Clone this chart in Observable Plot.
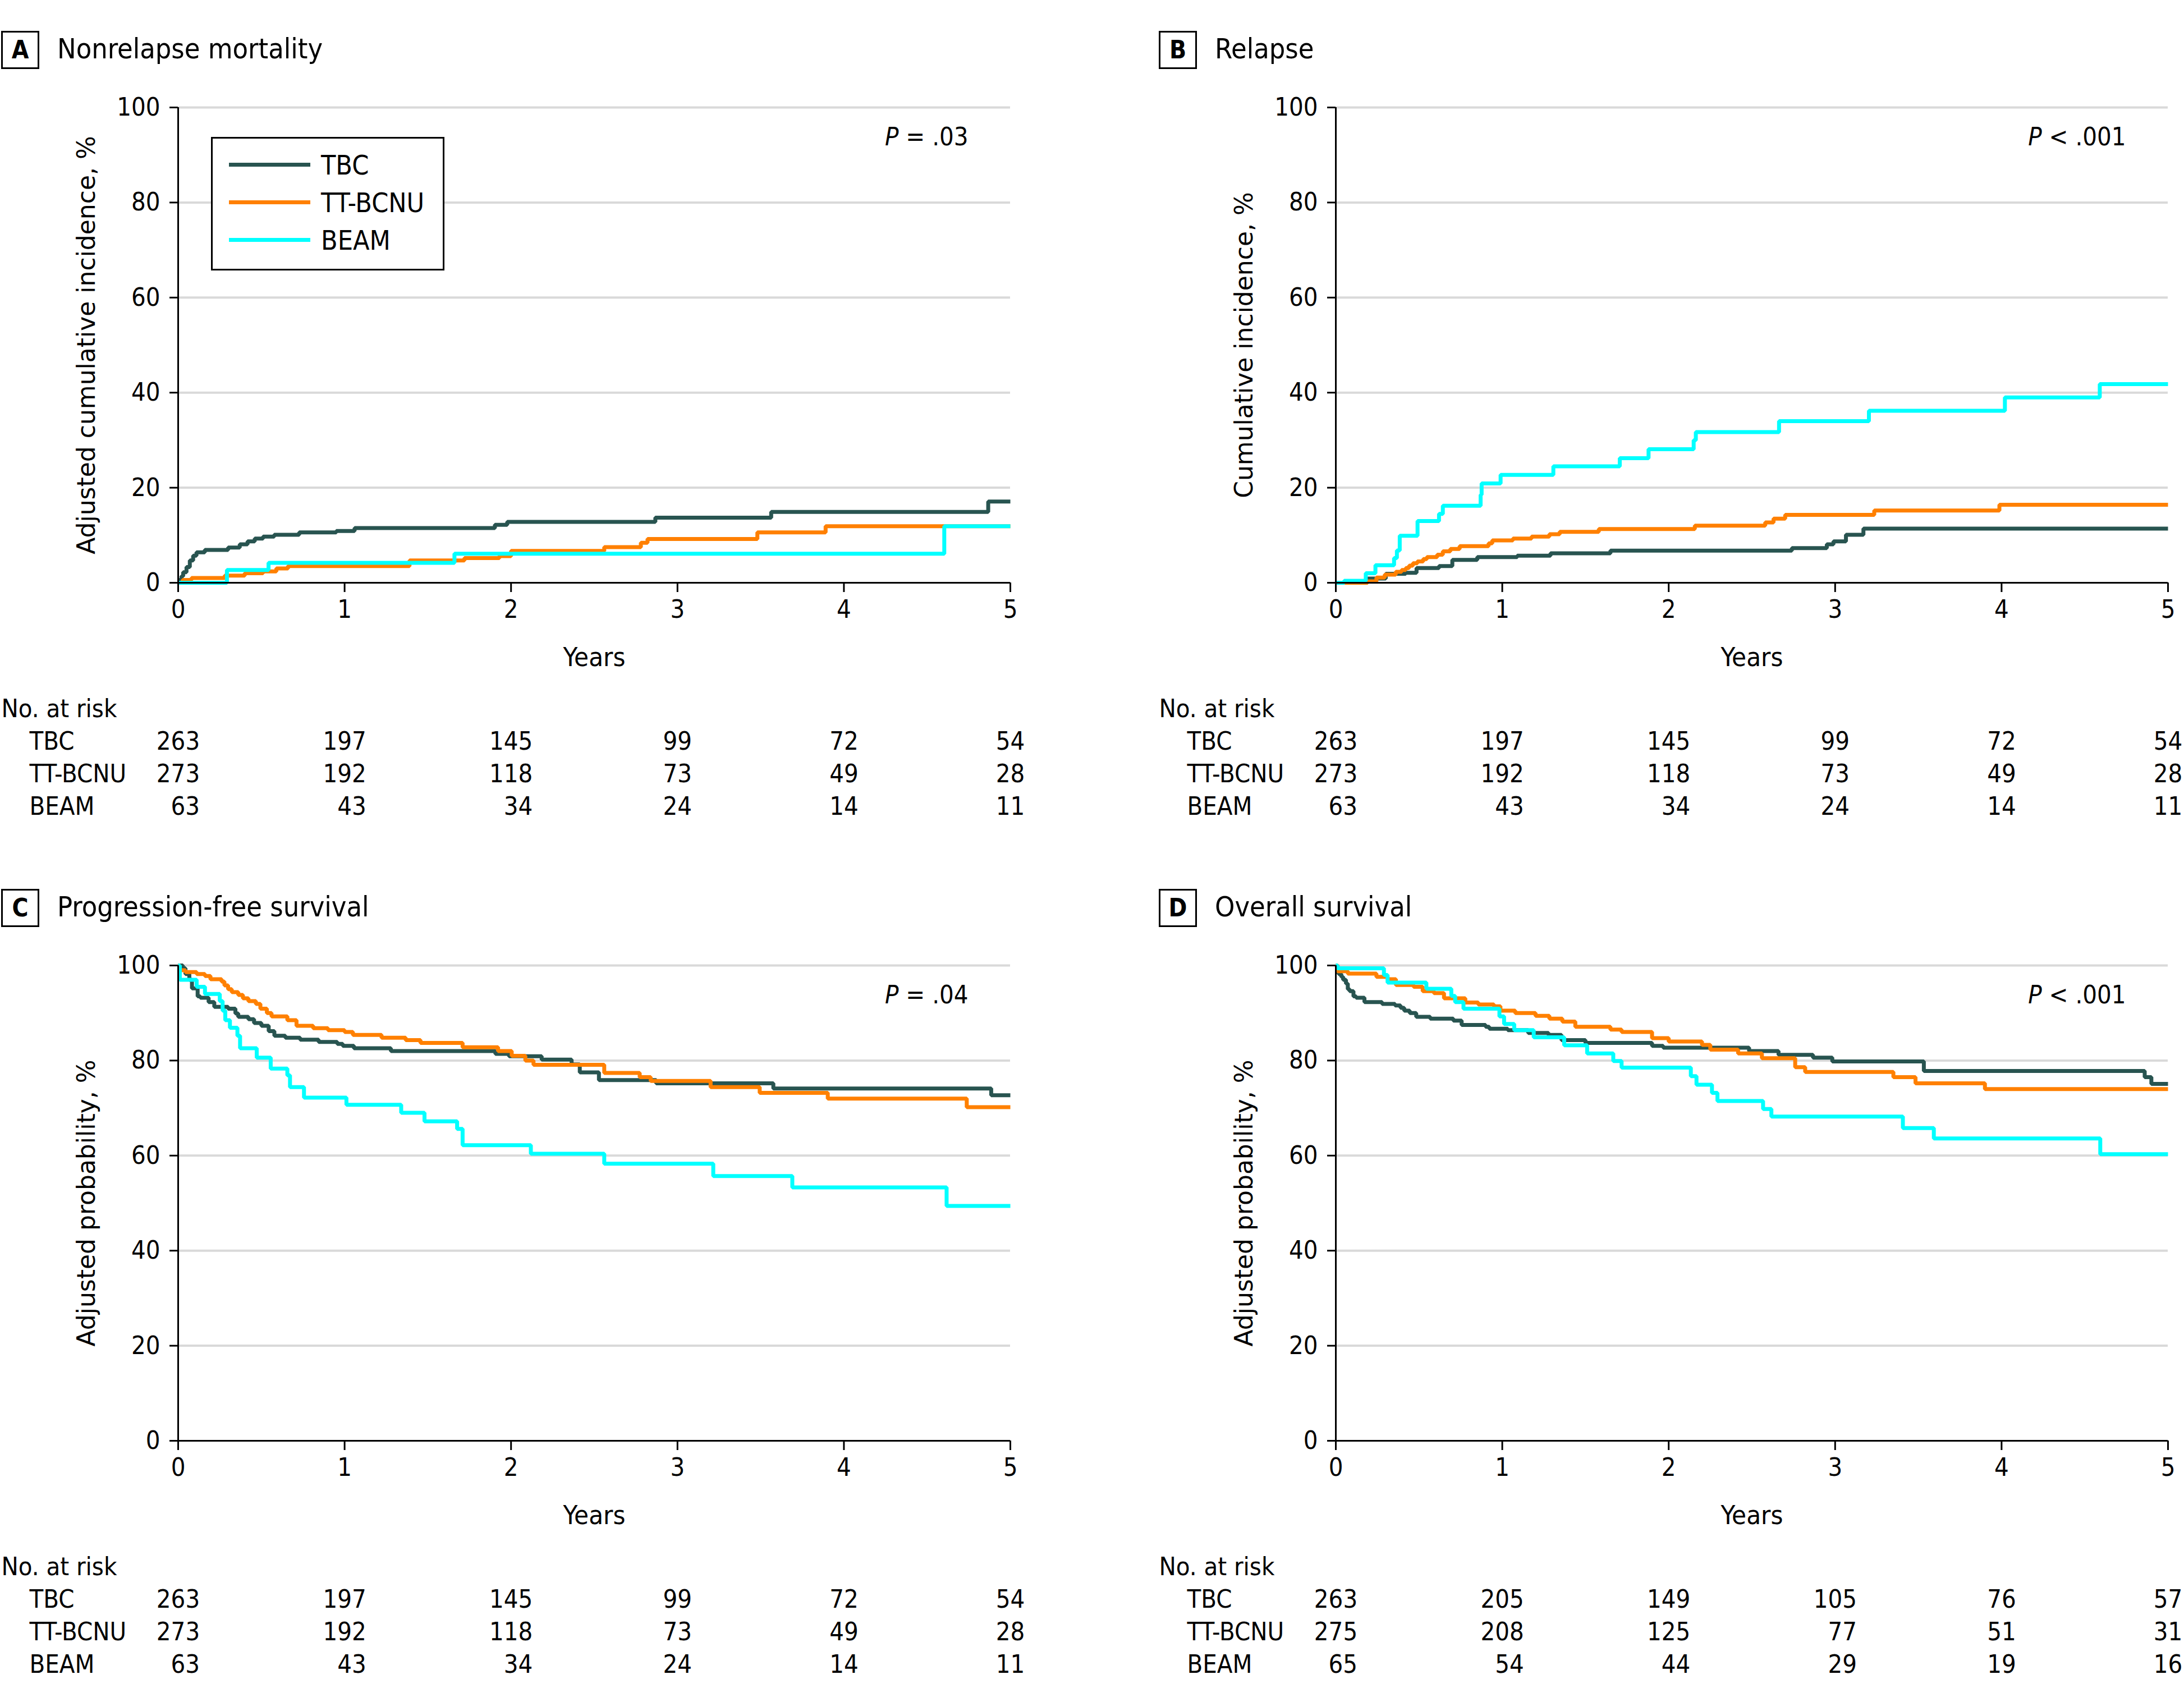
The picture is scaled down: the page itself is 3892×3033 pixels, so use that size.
<!DOCTYPE html>
<html>
<head>
<meta charset="utf-8">
<script src="https://cdn.jsdelivr.net/npm/d3@7"></script>
<script src="https://cdn.jsdelivr.net/npm/@observablehq/plot@0.6"></script>
<style>
html, body { margin: 0; padding: 0; background: #fff; }
body { width: 3892px; height: 3033px; overflow: hidden; position: relative;
  font-family: 'DejaVu Sans Condensed', sans-serif; color: #000; }
.panel { position: absolute; width: 1892px; height: 1529px; }
.panel svg { position: absolute; left: 0; overflow: visible; }
.tag { position: absolute; left: 2px; top: 55px; width: 62px; height: 62px; border: 3px solid #000;
  font-weight: bold; font-size: 44px; line-height: 62px; text-align: center; }
.title { position: absolute; left: 102px; top: 62px; font-size: 50px; line-height: 50px; white-space: nowrap; }
.legend { position: absolute; left: 376px; top: 244px; width: 410px; height: 232px; border: 3px solid #000; background: #fff; }
.legend .row { position: absolute; left: 0; width: 410px; height: 60px; }
.legend .sw { position: absolute; left: 29px; top: 26px; width: 145px; height: 7px; }
.legend .lab { position: absolute; left: 193px; top: 6px; font-size: 48px; line-height: 48px; white-space: nowrap; }
</style>
</head>
<body>
<script>
// ---------- categories / labels ----------
const groups = ["TBC", "TT-BCNU", "BEAM"];
const colors = ["#285450", "#ff8000", "#00ffff"];
const years = [0, 1, 2, 3, 4, 5];
const yTicks = [0, 20, 40, 60, 80, 100];
const panelLetters = ["A", "B", "C", "D"];
const panelTitles = ["Nonrelapse mortality", "Relapse", "Progression-free survival", "Overall survival"];
const yLabels = ["Adjusted cumulative incidence, %", "Cumulative incidence, %", "Adjusted probability, %", "Adjusted probability, %"];
const pValues = ["P = .03", "P < .001", "P = .04", "P < .001"];

// ---------- A: nonrelapse mortality [years, %] ----------
const nrmTBC = [[0,0],[0.01,0.7],[0.02,1.4],[0.03,2.2],[0.05,3.3],[0.07,4.7],[0.09,5.7],[0.11,6.4],[0.16,6.9],[0.30,7.4],[0.37,8.1],[0.417,8.7],[0.46,9.3],[0.51,9.7],[0.577,10.1],[0.727,10.6],[0.95,10.9],[1.06,11.5],[1.903,12.2],[1.977,12.8],[2.867,13.7],[3.563,14.9],[4.867,17.1],[5,17.1]];
const nrmTT = [[0,0],[0.027,0.6],[0.08,1.0],[0.28,1.5],[0.4,2.0],[0.51,2.4],[0.59,3.0],[0.66,3.5],[1.39,4.7],[1.72,5.2],[1.93,5.6],[2.0,6.7],[2.56,7.5],[2.78,8.4],[2.82,9.2],[3.48,10.6],[3.89,11.9],[5,11.9]];
const nrmBEAM = [[0,0],[0.293,2.7],[0.543,4.2],[1.66,6.1],[4.603,11.9],[5,11.9]];

// ---------- B: relapse ----------
const relTBC = [[0,0],[0.19,0.9],[0.30,1.9],[0.42,2.1],[0.485,3.1],[0.62,3.5],[0.70,4.8],[0.85,5.4],[1.09,5.7],[1.29,6.2],[1.65,6.75],[2.74,7.3],[2.95,8.1],[2.99,8.7],[3.065,10.1],[3.17,11.4],[5,11.4]];
const relTT = [[0,0],[0.19,0.3],[0.244,1.1],[0.294,1.7],[0.36,2.3],[0.395,2.7],[0.42,3.1],[0.44,3.6],[0.463,4.1],[0.49,4.5],[0.525,5.0],[0.547,5.4],[0.609,5.9],[0.643,6.6],[0.688,7.1],[0.744,7.7],[0.918,8.3],[0.94,8.9],[1.064,9.3],[1.176,9.7],[1.283,10.2],[1.345,10.7],[1.58,11.3],[2.157,12.0],[2.58,12.7],[2.63,13.5],[2.70,14.3],[3.235,15.2],[3.987,16.4],[5,16.4]];
const relBEAM = [[0,0],[0.05,0.4],[0.18,2.0],[0.238,3.7],[0.35,5.2],[0.367,6.8],[0.384,9.9],[0.491,13.0],[0.62,14.5],[0.643,16.2],[0.87,18.5],[0.876,20.9],[0.99,22.7],[1.307,24.5],[1.706,26.2],[1.879,28.1],[2.15,30.0],[2.163,31.7],[2.663,34.0],[3.203,36.2],[4.02,39.0],[4.59,41.8],[5,41.8]];

// ---------- C: progression-free survival ----------
const pfsTBC = [[0,100],[0.028,99.4],[0.044,98.2],[0.067,97.0],[0.083,95.2],[0.117,93.5],[0.133,93.2],[0.183,92.3],[0.217,91.3],[0.30,90.9],[0.344,89.9],[0.361,89.2],[0.422,88.7],[0.456,87.9],[0.50,87.3],[0.544,86.2],[0.578,85.2],[0.644,84.8],[0.733,84.4],[0.844,83.9],[0.956,83.5],[0.989,83.1],[1.056,82.6],[1.278,82.0],[1.906,81.4],[1.988,80.9],[2.184,80.2],[2.364,79.2],[2.413,77.5],[2.528,75.9],[2.872,75.2],[3.576,74.1],[4.885,72.7],[5,72.7]];
const pfsTT = [[0,100],[0.01,99.0],[0.044,98.6],[0.111,98.2],[0.161,97.8],[0.194,97.1],[0.261,96.6],[0.278,95.8],[0.30,95.0],[0.322,94.4],[0.361,93.8],[0.389,93.1],[0.422,92.5],[0.467,91.9],[0.494,90.9],[0.533,90.0],[0.561,89.3],[0.656,88.5],[0.711,87.3],[0.811,86.8],[0.90,86.4],[1.0,86.0],[1.05,85.4],[1.222,84.8],[1.367,84.3],[1.456,83.7],[1.709,82.8],[1.922,82.0],[2.004,81.0],[2.086,80.0],[2.135,79.1],[2.56,77.4],[2.773,76.5],[2.839,75.7],[3.199,74.4],[3.494,73.2],[3.903,72.0],[4.738,70.2],[5,70.2]];
const pfsBEAM = [[0,100],[0.01,97.0],[0.111,95.5],[0.161,94.0],[0.25,92.5],[0.267,90.5],[0.283,88.5],[0.311,86.9],[0.356,85.2],[0.372,82.6],[0.472,80.6],[0.556,78.3],[0.656,76.9],[0.672,74.4],[0.756,72.2],[1.011,70.7],[1.34,69.0],[1.48,67.2],[1.676,65.6],[1.709,62.2],[2.119,60.4],[2.56,58.3],[3.215,55.7],[3.69,53.3],[4.617,49.4],[5,49.4]];

// ---------- D: overall survival ----------
const osTBC = [[0,100],[0.011,99.2],[0.017,98.2],[0.033,97.6],[0.044,97.0],[0.061,96.2],[0.072,95.0],[0.083,94.6],[0.106,93.5],[0.122,93.2],[0.172,92.3],[0.278,91.9],[0.356,91.6],[0.389,91.1],[0.411,90.5],[0.444,90.0],[0.483,89.2],[0.567,88.8],[0.706,88.4],[0.756,87.5],[0.90,87.1],[0.922,86.7],[1.033,86.4],[1.156,85.8],[1.278,85.4],[1.356,84.3],[1.5,83.7],[1.9,83.1],[1.967,82.7],[2.483,82.0],[2.66,81.2],[2.867,80.6],[2.983,79.8],[3.533,77.8],[4.86,76.5],[4.9,75.1],[5,75.1]];
const osTT = [[0,100],[0.01,98.8],[0.072,98.3],[0.244,97.6],[0.311,97.1],[0.361,95.9],[0.467,95.5],[0.522,94.6],[0.589,94.2],[0.65,93.1],[0.778,92.2],[0.856,91.8],[0.95,91.4],[0.989,90.5],[1.078,90.0],[1.2,89.4],[1.283,88.8],[1.361,88.2],[1.439,87.1],[1.65,86.5],[1.717,86.0],[1.9,84.7],[2.0,84.0],[2.2,83.3],[2.25,82.3],[2.417,81.5],[2.56,80.5],[2.76,78.6],[2.82,77.6],[3.35,76.5],[3.483,75.2],[3.9,74.0],[5,74.0]];
const osBEAM = [[0,100],[0.01,99.4],[0.289,98.0],[0.311,96.4],[0.544,95.1],[0.694,93.6],[0.717,92.3],[0.767,90.9],[0.983,89.3],[1.011,87.7],[1.072,86.4],[1.189,84.9],[1.372,83.2],[1.51,81.5],[1.667,79.9],[1.717,78.5],[2.133,76.7],[2.167,74.9],[2.26,73.2],[2.293,71.5],[2.567,69.8],[2.617,68.2],[3.407,65.8],[3.593,63.6],[4.593,60.3],[5,60.3]];

// ---------- numbers at risk (at years 0..5) ----------
const riskTBC = [263, 197, 145, 99, 72, 54];
const riskTT = [273, 192, 118, 73, 49, 28];
const riskBEAM = [63, 43, 34, 24, 14, 11];
const riskOsTBC = [263, 205, 149, 105, 76, 57];
const riskOsTT = [275, 208, 125, 77, 51, 31];
const riskOsBEAM = [65, 54, 44, 29, 19, 16];

const panelSeries = [
  [nrmTBC, nrmTT, nrmBEAM],
  [relTBC, relTT, relBEAM],
  [pfsTBC, pfsTT, pfsBEAM],
  [osTBC, osTT, osBEAM]
];
const panelRisk = [
  [riskTBC, riskTT, riskBEAM],
  [riskTBC, riskTT, riskBEAM],
  [riskTBC, riskTT, riskBEAM],
  [riskOsTBC, riskOsTT, riskOsBEAM]
];
const panelOffsets = [[0, 0], [2063, 0], [0, 1529], [2063, 1529]];

const FONT = "'DejaVu Sans Condensed', sans-serif";
const FS = 45;
const svgNS = "http://www.w3.org/2000/svg";

function makePanel(i) {
  const div = document.createElement("div");
  div.className = "panel";
  div.style.left = panelOffsets[i][0] + "px";
  div.style.top = panelOffsets[i][1] + "px";
  document.body.appendChild(div);

  const tag = document.createElement("div");
  tag.className = "tag"; tag.textContent = panelLetters[i];
  div.appendChild(tag);
  const title = document.createElement("div");
  title.className = "title"; title.textContent = panelTitles[i];
  div.appendChild(title);

  const rows = [];
  panelSeries[i].forEach((s, k) => s.forEach(([t, v]) => rows.push({t, v, g: groups[k]})));

  const chart = Plot.plot({
    width: 1892, height: 1088,
    marginLeft: 317, marginRight: 92, marginTop: 61, marginBottom: 180,
    x: {domain: [0, 5], label: null},
    y: {domain: [0, 100], label: null},
    color: {domain: groups, range: colors},
    style: {fontFamily: FONT, fontSize: FS + "px", color: "#000", background: "transparent", maxWidth: "none", overflow: "visible"},
    marks: [
      Plot.gridY(yTicks.filter(d => d > 0), {stroke: "#d9d9d9", strokeOpacity: 1, strokeWidth: 4}),
      Plot.line(rows, {x: "t", y: "v", z: "g", stroke: "g", curve: "step-after", strokeWidth: 7, strokeLinejoin: "miter", strokeLinecap: "butt"}),
      Plot.ruleY([0], {stroke: "#000", strokeWidth: 3}),
      Plot.ruleX([0], {stroke: "#000", strokeWidth: 3}),
      Plot.axisX(years, {tickSize: 17, tickPadding: 14, strokeWidth: 3, label: null, tickFormat: d => String(d)}),
      Plot.axisY(yTicks, {tickSize: 15, tickPadding: 17, strokeWidth: 3, label: null, tickFormat: d => String(d)}),
      Plot.text([yLabels[i]], {frameAnchor: "left", dx: -163, rotate: -90, textAnchor: "middle", lineAnchor: "middle", fontFamily: "DejaVu Sans", fontSize: 44}),
      Plot.text(["Years"], {frameAnchor: "bottom", dy: 133, textAnchor: "middle", lineAnchor: "middle", fontSize: 47}),
      Plot.text([pValues[i]], {frameAnchor: "top-right", dx: -75, dy: 53, textAnchor: "end", lineAnchor: "middle", fontSize: 45})
    ]
  });
  chart.style.top = "130px";
  chart.querySelectorAll("text").forEach(t => {
    if (t.textContent === pValues[i]) {
      const rest = pValues[i].slice(1);
      t.textContent = "";
      const a = document.createElementNS(svgNS, "tspan");
      a.setAttribute("font-style", "italic");
      a.textContent = "P";
      t.appendChild(a);
      t.appendChild(document.createTextNode(rest));
    }
  });
  div.appendChild(chart);

  // numbers at risk table
  const risk = panelRisk[i];
  const riskRows = [];
  risk.forEach((arr, k) => arr.forEach((n, j) => riskRows.push({t: years[j], g: groups[k], n, col: j})));
  const colLen = years.map((_, j) => d3.max(risk, arr => String(arr[j]).length));
  const lens = Array.from(new Set(colLen));
  const halfDigit = 0.5724 * FS / 2;
  const numMarks = lens.map(L => Plot.text(riskRows.filter(r => colLen[r.col] === L),
    {x: "t", y: "g", text: d => String(d.n), textAnchor: "end", lineAnchor: "middle", dx: L * halfDigit}));

  const riskPlot = Plot.plot({
    width: 1892, height: 250,
    marginLeft: 317, marginRight: 92, marginTop: 100, marginBottom: 33,
    x: {domain: [0, 5], axis: null},
    y: {domain: groups, type: "point", padding: 0, axis: null},
    style: {fontFamily: FONT, fontSize: FS + "px", color: "#000", background: "transparent", maxWidth: "none", overflow: "visible"},
    marks: [
      Plot.text(["No. at risk"], {frameAnchor: "top-left", dx: -315, dy: -57, textAnchor: "start", lineAnchor: "middle"}),
      Plot.text(groups, {y: d => d, text: d => d, frameAnchor: "left", dx: -265, textAnchor: "start", lineAnchor: "middle"}),
      ...numMarks
    ]
  });
  riskPlot.style.top = "1220px";
  div.appendChild(riskPlot);

  if (i === 0) {
    const lg = document.createElement("div");
    lg.className = "legend";
    groups.forEach((g, k) => {
      const r = document.createElement("div");
      r.className = "row";
      r.style.top = (17 + k * 67) + "px";
      const sw = document.createElement("div");
      sw.className = "sw"; sw.style.background = colors[k];
      const lab = document.createElement("div");
      lab.className = "lab"; lab.textContent = g;
      r.appendChild(sw); r.appendChild(lab);
      lg.appendChild(r);
    });
    div.appendChild(lg);
  }
}

for (let i = 0; i < 4; i++) makePanel(i);
</script>
</body>
</html>
